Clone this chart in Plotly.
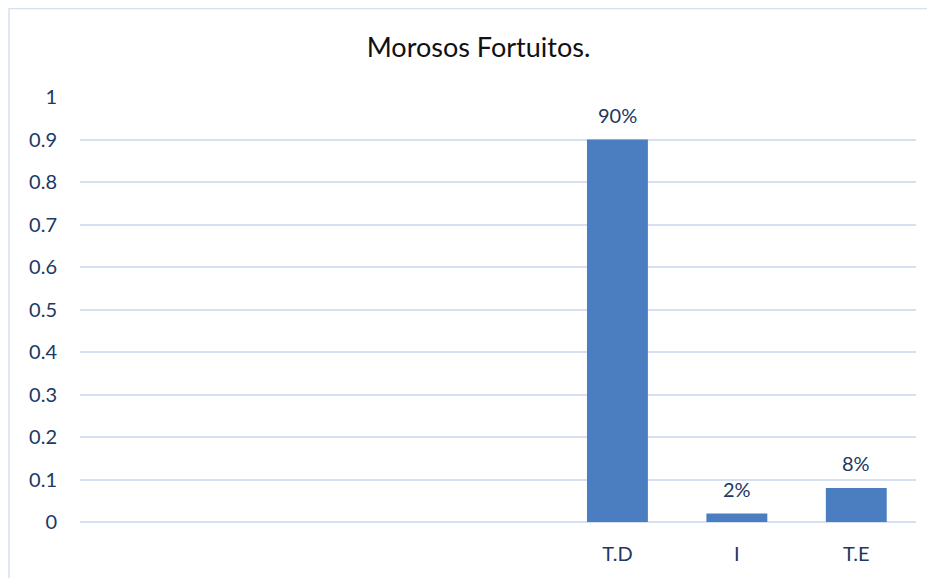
import plotly.graph_objects as go

categories = ["", "", "", "", "T.D", "I", "T.E"]
values = [None, None, None, None, 0.90, 0.02, 0.08]
y_ticks = [0, 0.1, 0.2, 0.3, 0.4, 0.5, 0.6, 0.7, 0.8, 0.9, 1]

x_pos = list(range(len(categories)))
tick_color = "#203864"
grid_color = "#d6e0f0"
font_family = "Lato, 'Open Sans', sans-serif"

fig = go.Figure()
fig.add_trace(go.Bar(
    x=x_pos,
    y=values,
    marker=dict(color="#4a7ec0", line=dict(width=0)),
    width=0.51,
    hoverinfo="skip",
))

for xp, v in zip(x_pos, values):
    if v is not None:
        fig.add_annotation(
            x=xp, y=v, text=f"{round(v*100)}%", showarrow=False,
            yshift=25, font=dict(size=20, color=tick_color, family=font_family),
            xref="x", yref="y",
        )

fig.add_shape(
    type="rect", xref="paper", yref="paper",
    x0=-0.0849, y0=-0.2, x1=1.1, y1=1.2082,
    line=dict(color="#d6e0f0", width=1.5), fillcolor="rgba(0,0,0,0)", layer="below",
)

fig.update_layout(
    width=935, height=578,
    margin=dict(l=72, r=27, t=89, b=64),
    paper_bgcolor="white", plot_bgcolor="white",
    showlegend=False,
    title=dict(text="Morosos Fortuitos.", x=0.4767, xanchor="center", xref="paper",
               y=0.9308, yanchor="middle",
               font=dict(size=27, color="#111111", family=font_family)),
    font=dict(family=font_family, color=tick_color, size=20),
    xaxis=dict(
        range=[-0.5, len(categories) - 0.5],
        tickvals=x_pos, ticktext=categories,
        showgrid=False, zeroline=False, showline=False,
        ticks="", ticklabelstandoff=18,
        tickfont=dict(size=20, color=tick_color),
    ),
    yaxis=dict(
        range=[0, 1], tickvals=y_ticks,
        showgrid=True, gridcolor=grid_color, gridwidth=1.5,
        zeroline=True, zerolinecolor=grid_color, zerolinewidth=1.5,
        showline=False, ticks="", ticklabelstandoff=22,
        tickfont=dict(size=20, color=tick_color),
    ),
)

fig.write_html("out.html")
